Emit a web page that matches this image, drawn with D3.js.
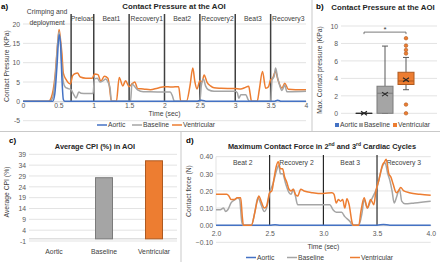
<!DOCTYPE html>
<html>
<head>
<meta charset="utf-8">
<script src="https://cdn.jsdelivr.net/npm/d3@7"></script>
<style>
body{margin:0;background:#fff}
svg{font-family:"Liberation Sans",Arial,sans-serif}
.tick text{fill:#595959;font-size:6.8px}
.title{font-weight:bold;fill:#262626;font-size:7.4px}
.big{font-size:7.8px}
.panel{font-weight:bold;fill:#000;font-size:8px}
.lab{fill:#404040;font-size:6.8px}
</style>
</head>
<body>
<svg id="fig" width="440" height="262"></svg>
<script>
// ---- panel a: contact pressure vs time, [time (sec), KPa]
var aAortic=[[0,0],[0.42,0],[0.45,2],[0.48,9],[0.51,17.2],[0.53,15],[0.55,6],[0.57,0.5],[0.59,0],[2.45,0],[2.52,0.3],[2.6,0],[3.55,0],[3.6,0.3],[3.65,0],[4,0]]
var aBaseline=[[0,0],[0.38,0],[0.42,1],[0.46,7],[0.49,15],[0.51,18],[0.53,15],[0.55,9],[0.57,5],[0.6,3.6],[0.64,3.3],[0.68,3],[0.71,2],[0.75,0.9],[0.79,2.4],[0.82,2.1],[0.9,2],[0.99,2],[1.01,5.8],[1.05,6],[1.09,5],[1.13,5.3],[1.17,5.8],[1.2,5],[1.23,3.5],[1.25,0],[1.52,0],[1.54,4.5],[1.58,3.8],[1.62,3],[1.7,2.5],[1.8,2.5],[2.0,2.4],[2.08,2.4],[2.11,1.5],[2.14,0],[2.5,0],[2.52,4],[2.55,5.8],[2.58,4],[2.62,3],[2.7,2.6],[3.0,2.6],[3.03,2.2],[3.05,0.8],[3.08,1.7],[3.15,1.7],[3.18,0.5],[3.2,0],[3.5,0],[3.52,5.5],[3.55,6.5],[3.57,8.6],[3.6,6],[3.63,4],[3.66,2.8],[3.7,4.2],[3.73,2.5],[3.8,2.5],[4,2.6]]
var aVentricular=[[0,0],[0.36,0],[0.4,1],[0.45,6],[0.49,15],[0.51,18.6],[0.53,16],[0.55,12.4],[0.57,7.3],[0.61,5.6],[0.67,4.5],[0.7,6.6],[0.74,7.2],[0.77,7.3],[0.81,6.3],[0.89,6],[0.98,6],[1.01,7.1],[1.06,6.9],[1.1,5.2],[1.15,6.5],[1.2,6],[1.22,4],[1.25,0],[1.32,0],[1.36,6.2],[1.41,4],[1.45,5.3],[1.5,3.8],[1.54,4.5],[1.58,5],[1.62,3.3],[1.7,3.2],[1.8,3],[1.9,3.4],[2.0,3.8],[2.1,3.7],[2.2,3.8],[2.23,0],[2.31,0],[2.36,4],[2.4,8.6],[2.43,5],[2.46,3.2],[2.5,5.3],[2.53,5],[2.56,6.8],[2.6,5],[2.65,4],[2.7,3.5],[2.8,3.4],[3.0,3.3],[3.08,3.2],[3.13,3.5],[3.19,3.9],[3.21,2],[3.23,0],[3.31,0],[3.34,3],[3.385,7.7],[3.43,3.4],[3.47,3.8],[3.5,5.6],[3.53,6],[3.57,7.8],[3.6,5.8],[3.66,3.4],[3.7,4.7],[3.75,3.1],[3.85,3],[4,3]]
var aPhaseTimes=[0,0.68,1,1.5,2,2.5,3,3.5,4]
var aPhaseNames=["Crimping and|deployment","Preload","Beat1","Recovery1","Beat2","Recovery2","Beat3","Recovery3"]
var aYTicks=[-5,0,5,10,15,20]
var aXTicks=[0,0.5,1,1.5,2,2.5,3,3.5,4]

// ---- panel b: box plot summary (KPa)
var bSeries=["Aortic","Baseline","Ventricular"]
var bMin=[0,0,2.7]
var bQ1=[0,0,3.3]
var bMedian=[0,2.3,3.7]
var bQ3=[0,3.1,4.7]
var bMax=[0,7.7,6.4]
var bMean=[0,2.2,3.85]
var bOutliers=[[],[],[8.6,7.75,7.25,6.85,1.0,0]]
var bYTicks=[0,2,4,6,8,10]

// ---- panel c: average CPI
var cCategories=["Aortic","Baseline","Ventricular"]
var cValues=[0,28.2,36]
var cYTicks=[-1,4,9,14,19,24,29,34,39]

// ---- panel d: max contact force, [time (sec), N]
var dAortic=[[2,0],[2.5,0],[2.55,0.003],[2.6,0],[3.5,0],[3.56,0.004],[3.62,0],[4,0]]
var dBaseline=[[2.0,0.09],[2.04,0.09],[2.07,0.1],[2.09,0.08],[2.11,0.09],[2.14,0.13],[2.18,0.15],[2.2,0.16],[2.22,0.15],[2.24,0.02],[2.255,0],[2.33,0],[2.36,0.07],[2.39,0.16],[2.42,0.12],[2.45,0.08],[2.48,0.12],[2.5,0.19],[2.53,0.24],[2.56,0.31],[2.585,0.35],[2.6,0.3],[2.62,0.3],[2.65,0.24],[2.68,0.19],[2.7,0.18],[2.72,0.21],[2.74,0.17],[2.76,0.12],[2.85,0.12],[3.0,0.12],[3.06,0.12],[3.09,0.09],[3.12,0.075],[3.17,0.075],[3.2,0.05],[3.25,0.02],[3.27,0],[3.33,0],[3.36,0.07],[3.38,0.15],[3.41,0.1],[3.44,0.14],[3.48,0.19],[3.5,0.22],[3.53,0.3],[3.555,0.35],[3.575,0.365],[3.6,0.3],[3.62,0.26],[3.64,0.2],[3.66,0.13],[3.68,0.16],[3.7,0.2],[3.71,0.21],[3.73,0.14],[3.76,0.125],[3.85,0.13],[4.0,0.14]]
var dVentricular=[[2.0,0.18],[2.1,0.18],[2.12,0.17],[2.14,0.15],[2.17,0.15],[2.2,0.16],[2.23,0.16],[2.245,0.05],[2.255,0],[2.33,0],[2.36,0.07],[2.38,0.13],[2.4,0.17],[2.42,0.14],[2.45,0.1],[2.47,0.11],[2.5,0.19],[2.52,0.2],[2.54,0.27],[2.56,0.34],[2.58,0.37],[2.6,0.33],[2.62,0.33],[2.64,0.28],[2.66,0.25],[2.68,0.21],[2.7,0.2],[2.72,0.21],[2.74,0.18],[2.76,0.17],[2.79,0.21],[2.82,0.2],[2.9,0.19],[3.0,0.185],[3.08,0.19],[3.1,0.18],[3.12,0.13],[3.14,0.15],[3.16,0.14],[3.18,0.15],[3.2,0.1],[3.22,0.155],[3.24,0.12],[3.27,0.01],[3.28,0],[3.33,0],[3.35,0.08],[3.38,0.16],[3.41,0.1],[3.44,0.15],[3.47,0.12],[3.49,0.2],[3.52,0.27],[3.55,0.35],[3.57,0.37],[3.585,0.385],[3.61,0.3],[3.63,0.28],[3.65,0.24],[3.68,0.19],[3.7,0.2],[3.72,0.22],[3.75,0.2],[3.8,0.19],[3.9,0.18],[4.0,0.175]]
var dPhaseTimes=[2,2.5,3,3.5,4]
var dPhaseNames=["Beat 2","Recovery 2","Beat 3","Recovery 3"]
var dYTicks=[-0.1,0,0.1,0.2,0.3,0.4]
var dXTicks=[2,2.5,3,3.5,4]

var colors={Aortic:"#4472C4",Baseline:"#A5A5A5",Ventricular:"#ED7D31"}
var borders={Aortic:"#2F528F",Baseline:"#7B7B7B",Ventricular:"#AE5A21"}

var svg=d3.select("#fig")

// dividers between the four panels
svg.append("g").attr("stroke","#c9c9c9").attr("stroke-width",1).selectAll("line")
    .data([[312,0,312,131],[0,131.5,440,131.5],[181,131,181,262]])
    .enter().append("line")
    .attr("x1",function(d){return d[0]}).attr("y1",function(d){return d[1]})
    .attr("x2",function(d){return d[2]}).attr("y2",function(d){return d[3]})

// gridlines + y labels
var yAxisGrid=function(g,yScale,ticks,x0,x1,fmt){
    g.append("g").attr("stroke","#e3e3e3").selectAll("line")
        .data(ticks).enter().append("line")
        .attr("x1",x0).attr("x2",x1)
        .attr("y1",function(d){return yScale(d)}).attr("y2",function(d){return yScale(d)})
    var ax=g.append("g").attr("transform","translate("+x0+",0)")
        .call(d3.axisLeft(yScale).tickValues(ticks).tickSize(0).tickPadding(3).tickFormat(fmt))
    ax.select(".domain").remove()
}

var rotLabel=function(g,text,x,y){
    g.append("text").attr("class","lab")
        .attr("transform","translate("+x+","+y+") rotate(-90)")
        .attr("text-anchor","middle").attr("dy","0.35em").text(text)
}

var lineLegend=function(g,items,y){
    items.forEach(function(it){
        g.append("line").attr("x1",it[1]).attr("x2",it[1]+10).attr("y1",y).attr("y2",y)
            .attr("stroke",colors[it[0]]).attr("stroke-width",1.5)
        g.append("text").attr("class","lab").attr("x",it[1]+11).attr("y",y).attr("dy","0.35em").text(it[0])
    })
}

var drawSeries=function(g,xScale,yScale,series){
    var gen=d3.line().x(function(d){return xScale(d[0])}).y(function(d){return yScale(d[1])})
        .curve(d3.curveMonotoneX)
    series.forEach(function(s){
        g.append("path").datum(s[1]).attr("d",gen).attr("fill","none")
            .attr("stroke",colors[s[0]]).attr("stroke-width",1.5).attr("stroke-linejoin","round")
    })
}

//////// panel a
var initA=function(){
    var g=svg.append("g")
    var x=d3.scaleLinear().domain([0,4]).range([23,306])
    var y=d3.scaleLinear().domain([-5,20]).range([120.7,24])
    yAxisGrid(g,y,aYTicks,x(0),x(4),function(d){return d})
    var xa=g.append("g").attr("transform","translate(0,"+y(0)+")")
        .call(d3.axisBottom(x).tickValues(aXTicks).tickSize(0).tickPadding(2).tickFormat(function(d){return d}))
    xa.select(".domain").attr("stroke","#d0d0d0")

    // phase separators
    g.append("g").selectAll("line").data(aPhaseTimes.slice(1,-1)).enter().append("line")
        .attr("x1",function(d){return x(d)}).attr("x2",function(d){return x(d)})
        .attr("y1",14).attr("y2",y(0)).attr("stroke","#404040").attr("stroke-width",1.5)
    aPhaseNames.forEach(function(n,i){
        var cx=x((aPhaseTimes[i]+aPhaseTimes[i+1])/2)
        var parts=n.split("|")
        if(parts.length>1){
            g.append("text").attr("class","lab").attr("x",cx).attr("y",13.5).attr("text-anchor","middle").text(parts[0])
            g.append("text").attr("class","lab").attr("x",cx).attr("y",24.5).attr("text-anchor","middle").text(parts[1])
        } else {
            g.append("text").attr("class","lab").attr("x",cx).attr("y",20.5).attr("text-anchor","middle").text(n)
        }
    })

    drawSeries(g,x,y,[["Ventricular",aVentricular],["Baseline",aBaseline],["Aortic",aAortic]])

    g.append("text").attr("class","panel").attr("x",1).attr("y",9).text("a)")
    g.append("text").attr("class","title big").attr("x",174).attr("y",9).attr("text-anchor","middle").text("Contact Pressure at the AOI")
    rotLabel(g,"Contact Pressure (KPa)",7,66)
    g.append("text").attr("class","lab").attr("x",x(2)).attr("y",114).attr("dy","0.35em").attr("text-anchor","middle").text("Time (sec)")
    lineLegend(g,[["Aortic",97],["Baseline",132],["Ventricular",172]],125)
}

//////// panel b
var initB=function(){
    var g=svg.append("g")
    var y=d3.scaleLinear().domain([0,10]).range([113.3,26])
    var x=d3.scalePoint().domain(bSeries).range([364,406])
    yAxisGrid(g,y,bYTicks,341,437,function(d){return d})
    var w=16
    bSeries.forEach(function(s,i){
        var cx=x(s)
        var col=borders[s]
        // whiskers
        g.append("line").attr("x1",cx).attr("x2",cx).attr("y1",y(bMax[i])).attr("y2",y(bQ3[i])).attr("stroke","#595959")
        g.append("line").attr("x1",cx).attr("x2",cx).attr("y1",y(bQ1[i])).attr("y2",y(bMin[i])).attr("stroke","#595959")
        ;[bMax[i],bMin[i]].forEach(function(v){
            g.append("line").attr("x1",cx-3).attr("x2",cx+3).attr("y1",y(v)).attr("y2",y(v)).attr("stroke","#595959")
        })
        g.append("rect").attr("x",cx-w/2).attr("width",w)
            .attr("y",y(bQ3[i])).attr("height",Math.max(0.01,y(bQ1[i])-y(bQ3[i])))
            .attr("fill",colors[s]).attr("stroke",s=="Aortic"?"#262626":col).attr("stroke-width",1)
        g.append("line").attr("x1",cx-w/2).attr("x2",cx+w/2).attr("y1",y(bMedian[i])).attr("y2",y(bMedian[i]))
            .attr("stroke",s=="Aortic"?"#262626":col).attr("stroke-width",1)
        var my=y(bMean[i])
        g.append("path").attr("d","M"+(cx-3)+","+(my-2)+"L"+(cx+3)+","+(my+2)+"M"+(cx-3)+","+(my+2)+"L"+(cx+3)+","+(my-2))
            .attr("stroke","#262626").attr("stroke-width",1.1)
        g.selectAll(null).data(bOutliers[i]).enter().append("circle")
            .attr("cx",cx).attr("cy",function(d){return y(d)}).attr("r",1.8)
            .attr("fill",colors[s]).attr("stroke",col).attr("stroke-width",0.6)
    })
    // significance bracket
    var by=y(9.3)
    g.append("path").attr("d","M"+x("Aortic")+","+(by+2)+"V"+by+"H"+x("Ventricular")+"V"+(by+2))
        .attr("fill","none").attr("stroke","#595959").attr("stroke-width",0.8)
    g.append("text").attr("class","lab").attr("x",(x("Aortic")+x("Ventricular"))/2).attr("y",by-0.5)
        .attr("text-anchor","middle").style("font-size","8px").text("*")

    g.append("text").attr("class","panel").attr("x",316).attr("y",9).text("b)")
    g.append("text").attr("class","title big").attr("x",383).attr("y",10).attr("text-anchor","middle").text("Contact Pressure at the AOI")
    rotLabel(g,"Max. Contact pressure (KPa)",320,70)
    var lx=[335,359,393]
    bSeries.forEach(function(s,i){
        g.append("rect").attr("x",lx[i]).attr("y",123).attr("width",4).attr("height",4).attr("fill",colors[s])
        g.append("text").attr("class","lab").attr("x",lx[i]+5).attr("y",125).attr("dy","0.35em").text(s)
    })
}

//////// panel c
var initC=function(){
    var g=svg.append("g")
    var y=d3.scaleLinear().domain([-1,39]).range([241,154.3])
    var x=d3.scaleBand().domain(cCategories).range([29,179]).paddingInner(0.66).paddingOuter(0.33)
    yAxisGrid(g,y,cYTicks,29,177,function(d){return d})
    g.append("line").attr("x1",29).attr("x2",177).attr("y1",y(0)).attr("y2",y(0)).attr("stroke","#d0d0d0")
    g.selectAll(".bar").data(cCategories).enter().append("rect")
        .attr("x",function(d){return x(d)}).attr("width",x.bandwidth())
        .attr("y",function(d,i){return y(Math.max(0,cValues[i]))})
        .attr("height",function(d,i){return Math.abs(y(0)-y(cValues[i]))})
        .attr("fill",function(d){return colors[d]})
        .attr("stroke",function(d){return d=="Aortic"?"#595959":borders[d]}).attr("stroke-width",1)
    g.selectAll(".cat").data(cCategories).enter().append("text").attr("class","lab")
        .attr("x",function(d){return x(d)+x.bandwidth()/2}).attr("y",252).attr("dy","0.35em")
        .attr("text-anchor","middle").text(function(d){return d})
    g.append("text").attr("class","panel").attr("x",9).attr("y",143).text("c)")
    g.append("text").attr("class","title").attr("x",95).attr("y",148.5).attr("text-anchor","middle").text("Average CPI (%) in AOI")
    rotLabel(g,"Average CPI (%)",7,192)
}

//////// panel d
var initD=function(){
    var g=svg.append("g")
    var x=d3.scaleLinear().domain([2,4]).range([216,430.7])
    var y=d3.scaleLinear().domain([-0.1,0.4]).range([242.3,156.7])
    yAxisGrid(g,y,dYTicks,x(2),x(4),d3.format(".2f"))
    var xa=g.append("g").attr("transform","translate(0,"+y(0)+")")
        .call(d3.axisBottom(x).tickValues(dXTicks).tickSize(0).tickPadding(6).tickFormat(d3.format(".1f")))
    xa.select(".domain").attr("stroke","#d0d0d0")
    g.append("line").attr("x1",x(2)).attr("x2",x(2)).attr("y1",y(0.4)).attr("y2",y(0)).attr("stroke","#e3e3e3")

    g.append("g").selectAll("line").data(dPhaseTimes.slice(1,-1)).enter().append("line")
        .attr("x1",function(d){return x(d)}).attr("x2",function(d){return x(d)})
        .attr("y1",155).attr("y2",y(0)).attr("stroke","#000").attr("stroke-width",1)
    dPhaseNames.forEach(function(n,i){
        g.append("text").attr("class","lab").attr("x",x((dPhaseTimes[i]+dPhaseTimes[i+1])/2)).attr("y",163)
            .attr("dy","0.35em").attr("text-anchor","middle").text(n)
    })

    drawSeries(g,x,y,[["Aortic",dAortic],["Baseline",dBaseline],["Ventricular",dVentricular]])

    g.append("text").attr("class","panel").attr("x",186).attr("y",143).text("d)")
    var t=g.append("text").attr("class","title").attr("x",322).attr("y",148.5).attr("text-anchor","middle")
    t.append("tspan").text("Maximum Contact Force in 2")
    t.append("tspan").attr("dy",-2.5).style("font-size","5px").text("nd")
    t.append("tspan").attr("dy",2.5).text(" and 3")
    t.append("tspan").attr("dy",-2.5).style("font-size","5px").text("rd")
    t.append("tspan").attr("dy",2.5).text(" Cardiac Cycles")
    rotLabel(g,"Contact force (N)",189,191)
    g.append("text").attr("class","lab").attr("x",x(3)).attr("y",246.5).attr("dy","0.35em").attr("text-anchor","middle").text("Time (sec)")
    lineLegend(g,[["Aortic",246],["Baseline",287],["Ventricular",350]],257.5)
}

initA()
initB()
initC()
initD()
</script>
</body>
</html>
